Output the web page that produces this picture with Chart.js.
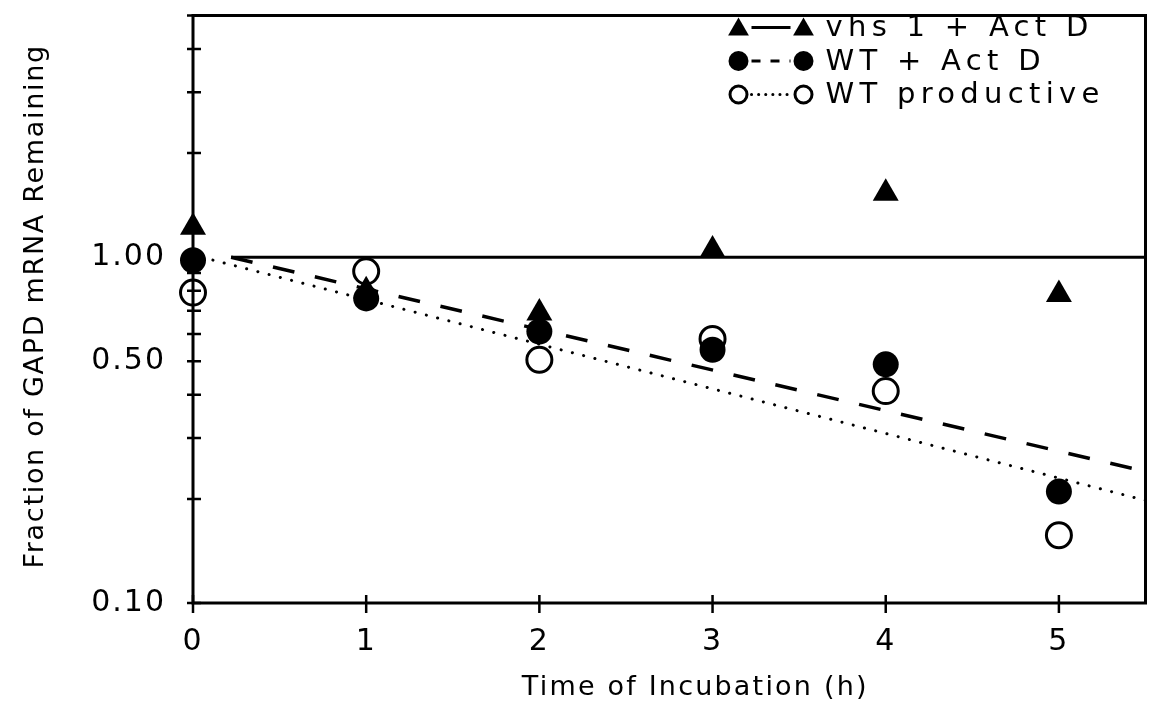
<!DOCTYPE html>
<html>
<head>
<meta charset="utf-8">
<script src="https://cdn.jsdelivr.net/npm/chart.js@4.4.1/dist/chart.umd.min.js"></script>
<style>
html, body { margin: 0; padding: 0; background: #fff; }
canvas { display: block; }
</style>
</head>
<body>
<canvas id="myChart" width="1161" height="719"></canvas>
<script>
var times = [0, 1, 2, 3, 4, 5];
var vhs1ActD = [1.22, 0.80, 0.69, 1.05, 1.53, 0.78];
var wtActD = [0.98, 0.76, 0.61, 0.54, 0.49, 0.21];
var wtProductive = [0.79, 0.91, 0.505, 0.58, 0.41, 0.157];

var seriesNames = ['vhs 1 + Act D', 'WT + Act D', 'WT productive'];

// fitted lines: start / end points (time, fraction)
var vhsFitX = [0.22, 5.5];
var vhsFitY = [1.0, 1.0];
var wtActFitX = [0.22, 5.5];
var wtActFitY = [1.0, 0.24];
var wtProdFitX = [0.05, 5.5];
var wtProdFitY = [1.0, 0.198];

var xTicks = [0, 1, 2, 3, 4, 5];
var yTicks = [0.1, 0.2, 0.3, 0.4, 0.5, 0.6, 0.7, 0.8, 0.9, 1, 2, 3, 4, 5];
var yLabelled = [0.1, 0.5, 1];

var FONT = '"DejaVu Sans", Verdana, sans-serif';

function pts(xs, ys) {
    return xs.map((x, i) => ({ x: x, y: ys[i] }));
}

function marker(ctx, style, x, y, r) {
    ctx.beginPath();
    if (style == 'triangle') {
        ctx.moveTo(x, y - r);
        ctx.lineTo(x - r * 0.866, y + r / 2);
        ctx.lineTo(x + r * 0.866, y + r / 2);
        ctx.closePath();
        ctx.fill();
    } else if (style == 'filled') {
        ctx.arc(x, y, r, 0, Math.PI * 2);
        ctx.fill();
    } else {
        ctx.lineWidth = 3;
        ctx.arc(x, y, r - 1.5, 0, Math.PI * 2);
        ctx.stroke();
    }
}

var framePlugin = {
    id: 'frame',
    beforeDraw(chart) {
        chart.ctx.letterSpacing = '2px';
    },
    beforeDatasetsDraw(chart) {
        var ctx = chart.ctx;
        var a = chart.chartArea;
        var xs = chart.scales.x, ys = chart.scales.y;
        ctx.save();
        ctx.strokeStyle = '#000';
        ctx.lineWidth = 3;
        ctx.strokeRect(a.left, a.top, a.right - a.left, a.bottom - a.top);
        ctx.lineWidth = 2.5;
        ctx.beginPath();
        xTicks.forEach(v => {
            var px = xs.getPixelForValue(v);
            ctx.moveTo(px, a.bottom - 8);
            ctx.lineTo(px, a.bottom + 10);
        });
        yTicks.forEach(v => {
            var py = ys.getPixelForValue(v);
            ctx.moveTo(a.left - 6, py);
            ctx.lineTo(a.left + 8, py);
        });
        ctx.stroke();
        ctx.restore();
    },
    afterDraw(chart) {
        var ctx = chart.ctx;
        var a = chart.chartArea;
        ctx.save();
        ctx.fillStyle = '#000';
        ctx.strokeStyle = '#000';

        // axis titles
        ctx.font = '27px ' + FONT;
        ctx.textAlign = 'center';
        ctx.textBaseline = 'middle';
        ctx.letterSpacing = '2.2px';
        ctx.fillText('Time of Incubation (h)', (a.left + a.right) / 2 + 26, 688);
        ctx.save();
        ctx.letterSpacing = '1.7px';
        ctx.translate(36, (a.top + a.bottom) / 2);
        ctx.rotate(-Math.PI / 2);
        ctx.fillText('Fraction of GAPD mRNA Remaining', 3, 0);
        ctx.restore();

        // legend
        var styles = ['triangle', 'filled', 'open'];
        var dashes = [[], [9, 10], [0.1, 7]];
        var x1 = a.right - 407, x2 = a.right - 342, tx = a.right - 320;
        ctx.font = '29px ' + FONT;
        ctx.letterSpacing = '5.3px';
        ctx.textAlign = 'left';
        seriesNames.forEach((name, i) => {
            var y = a.top + 12 + i * 33.5;
            marker(ctx, styles[i], x1, y + (i == 0 ? 2 : 0), i == 0 ? 12 : 10);
            marker(ctx, styles[i], x2, y + (i == 0 ? 2 : 0), i == 0 ? 12 : 10);
            ctx.save();
            ctx.lineWidth = 3;
            ctx.lineCap = i == 2 ? 'round' : 'butt';
            ctx.setLineDash(dashes[i]);
            ctx.beginPath();
            ctx.moveTo(x1 + 13, y);
            ctx.lineTo(x2 - 13, y);
            ctx.stroke();
            ctx.restore();
            ctx.fillText(name, tx, y + 1);
        });
        ctx.restore();
    }
};

var chart = document.getElementById('myChart').getContext('2d');

var decayChart = new Chart(chart, {
    type: 'scatter',
    data: {
        datasets: [
            {
                label: seriesNames[0],
                data: pts(times, vhs1ActD),
                pointStyle: 'triangle',
                pointRadius: 15,
                backgroundColor: '#000',
                borderColor: '#000',
                borderWidth: 0,
                clip: false,
                order: 1
            },
            {
                label: seriesNames[1],
                data: pts(times, wtActD),
                pointStyle: 'circle',
                pointRadius: 13,
                backgroundColor: '#000',
                borderColor: '#000',
                borderWidth: 0,
                clip: false,
                order: 2
            },
            {
                label: seriesNames[2],
                data: pts(times, wtProductive),
                pointStyle: 'circle',
                pointRadius: 12.5,
                backgroundColor: 'rgba(0,0,0,0)',
                borderColor: '#000',
                borderWidth: 3,
                clip: false,
                order: 3
            },
            {
                type: 'line',
                data: pts(vhsFitX, vhsFitY),
                borderColor: '#000',
                borderWidth: 3,
                pointRadius: 0,
                order: 4
            },
            {
                type: 'line',
                data: pts(wtActFitX, wtActFitY),
                borderColor: '#000',
                borderWidth: 3.5,
                borderDash: [22, 21],
                pointRadius: 0,
                order: 5
            },
            {
                type: 'line',
                data: pts(wtProdFitX, wtProdFitY),
                borderColor: '#000',
                borderWidth: 3,
                borderDash: [0.1, 11.5],
                borderCapStyle: 'round',
                pointRadius: 0,
                order: 6
            }
        ]
    },
    options: {
        responsive: false,
        animation: false,
        devicePixelRatio: 1,
        layout: { padding: { left: 0, top: 7, right: 9, bottom: 0 } },
        plugins: {
            legend: { display: false },
            tooltip: { enabled: false }
        },
        scales: {
            x: {
                type: 'linear',
                min: 0,
                max: 5.5,
                grid: { display: false },
                border: { display: false },
                afterBuildTicks: (scale) => { scale.ticks = xTicks.map(v => ({ value: v })); },
                afterFit: (scale) => {
                    scale.height = 116;
                    scale.paddingLeft = 0;
                    scale.paddingRight = 0;
                },
                ticks: {
                    color: '#000',
                    font: { family: FONT, size: 30 },
                    padding: 13,
                    maxRotation: 0
                }
            },
            y: {
                type: 'logarithmic',
                min: 0.1,
                max: 5,
                grid: { display: false },
                border: { display: false },
                afterBuildTicks: (scale) => { scale.ticks = yTicks.map(v => ({ value: v })); },
                afterFit: (scale) => {
                    scale.width = 193;
                    scale.paddingTop = 0;
                    scale.paddingBottom = 0;
                },
                ticks: {
                    color: '#000',
                    font: { family: FONT, size: 30 },
                    padding: 19,
                    autoSkip: false,
                    callback: (v) => yLabelled.indexOf(v) >= 0 ? v.toFixed(2) : ''
                }
            }
        }
    },
    plugins: [framePlugin]
});
</script>
</body>
</html>
